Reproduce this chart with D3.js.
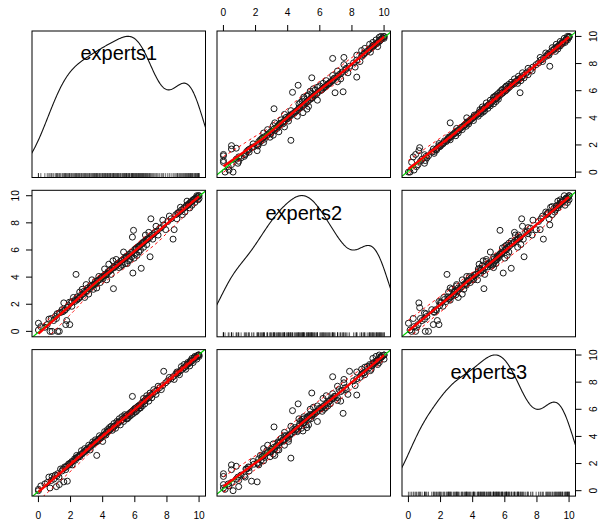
<!DOCTYPE html>
<html><head><meta charset="utf-8">
<script src="https://cdn.jsdelivr.net/npm/d3@7"></script>
<style>body{margin:0;background:#fff} svg{display:block;font-family:"Liberation Sans",Arial,sans-serif}</style>
</head><body><svg id="c" width="600" height="521"></svg>
<script>
const varNames = ["experts1","experts2","experts3"];
const experts1 = [
0,0,0.15,0.4,
0.55,0.65,0.72,0.8,0.85,0.95,
1.05,1.12,1.16,1.2,1.28,1.3,1.38,1.47,
1.52,1.58,1.63,1.67,1.7,1.76,1.8,1.87,1.93,1.95,
2.02,2.08,2.1,2.18,2.25,2.3,2.34,2.38,2.42,2.48,
2.52,2.57,2.6,2.68,2.72,2.78,2.83,2.88,2.92,2.97,
3.02,3.07,3.13,3.18,3.22,3.28,3.33,3.38,3.42,3.47,
3.5,3.55,3.6,3.63,3.66,3.7,3.76,3.8,3.85,3.9,3.96,
4.0,4.03,4.08,4.12,4.17,4.2,4.25,4.3,4.33,4.38,4.42,4.47,
4.5,4.53,4.6,4.64,4.67,4.7,4.73,4.8,4.84,4.88,4.92,4.96,
5.0,5.03,5.1,5.13,5.2,5.23,5.3,5.33,5.37,5.4,5.44,5.48,
5.5,5.53,5.6,5.63,5.67,5.7,5.77,5.8,5.83,5.85,5.88,5.92,5.96,
6.0,6.03,6.07,6.1,6.14,6.18,6.22,6.25,6.28,6.32,6.35,6.4,6.43,6.47,
6.5,6.54,6.58,6.62,6.66,6.7,6.74,6.78,6.82,6.87,6.92,6.95,
7.0,7.06,7.12,7.18,7.25,7.32,7.38,7.45,
7.55,7.65,7.74,7.8,7.92,
8.05,8.15,8.26,8.38,8.45,
8.55,8.62,8.66,8.7,8.78,8.84,8.9,8.96,
9.02,9.07,9.12,9.17,9.2,9.25,9.3,9.33,9.37,9.42,9.45,9.48,
9.52,9.56,9.6,9.63,9.7,9.74,9.78,9.82,9.86,9.9,9.94,9.97,10,10];
const experts2 = [
0.6,0.1,0.35,0.3,
0.5,0.9,0,0.95,0,0.8,
1.1,0.95,1.3,0,1.35,0,1.4,1.6,
1.45,2.1,1.55,1.6,0.5,0.8,1.75,1.9,2.15,0.5,
2.1,1.85,2.2,2.5,2.2,2.35,4.2,2.3,2.55,2.4,
2.45,2.9,2.55,2.7,3.1,2.75,2.95,2.5,2.9,3.45,
3.0,3.2,2.75,3.15,3.35,3.3,3.8,3.4,3.1,3.5,
3.45,3.7,3.55,3.2,3.7,3.75,4.05,3.8,3.6,3.95,4.0,
4.05,3.9,4.1,4.6,4.2,4.15,3.8,4.3,4.4,4.95,4.45,4.5,
4.55,4.2,4.65,5.2,3.15,4.75,4.7,4.85,5.3,4.9,4.95,5.0,
5.05,4.7,5.15,4.8,5.25,4.9,5.85,5.35,5.4,5.0,5.5,5.45,
5.55,5.0,5.2,5.65,5.7,5.3,5.8,5.5,5.85,6.95,4.3,7.45,5.4,
6.05,5.7,6.1,6.15,5.6,6.2,6.25,5.85,6.3,6.35,6.0,4.65,6.45,6.5,
6.55,6.2,6.6,6.65,7.1,6.75,6.4,6.8,6.85,7.3,6.9,5.5,
8.3,7.1,6.8,7.2,7.3,7.75,7.4,7.1,
7.6,7.65,8.2,7.85,7.5,
8.1,8.5,8.3,6.8,7.5,
8.6,8.3,8.7,8.75,8.8,9.15,8.95,8.6,
9.05,9.1,8.8,9.2,9.25,9.6,9.35,9.3,9.4,9.1,9.5,9.55,
9.55,9.3,9.65,9.7,9.75,9.5,9.8,9.85,10,9.9,9.7,10,10,9.8];
const experts3 = [
0,0.1,0.35,0.5,
0.6,1.0,0.2,0.75,1.05,0.85,
1.15,0.3,1.1,1.25,1.0,0.45,1.6,1.45,
1.6,0.65,1.75,1.7,1.55,1.8,0.7,1.95,2.0,1.9,
2.05,2.15,1.9,2.2,2.35,2.25,2.4,2.6,2.45,2.5,
2.55,2.5,2.65,2.95,2.7,2.8,2.85,3.1,2.9,3.0,
3.05,3.1,3.35,3.2,3.0,3.3,3.35,3.6,3.45,3.5,
3.55,3.75,3.6,2.6,3.7,3.65,3.8,4.05,3.85,3.9,4.0,
3.63,4.05,4.1,4.35,4.2,4.1,4.3,4.5,4.35,4.4,4.65,4.5,
4.55,4.75,4.45,4.65,4.7,4.95,4.75,4.6,4.85,5.1,4.95,5.0,
5.05,5.3,4.85,5.15,5.45,5.25,5.1,5.35,5.6,5.45,5.5,5.3,
5.55,5.3,5.4,5.65,5.7,5.5,5.8,5.6,5.85,6.95,5.9,5.7,6.0,
6.05,5.8,6.1,5.85,6.15,6.2,6.0,6.25,6.3,6.1,6.1,6.4,6.45,6.25,
6.55,6.8,6.6,6.4,6.65,6.75,7.0,6.8,6.85,6.6,6.95,7.2,
7.05,6.85,7.15,7.45,7.3,7.1,7.4,7.7,
7.6,7.45,7.75,8.8,7.95,
8.1,8.35,8.25,8.4,8.2,
8.6,8.75,8.65,8.7,8.55,8.85,9.15,8.95,
9.05,9.3,9.1,8.95,9.2,9.3,9.45,9.35,9.4,9.2,9.5,9.6,
9.55,9.75,9.6,9.45,9.8,9.9,9.8,9.85,9.7,9.95,10,10,10,9.9];
const tickValues = [0,2,4,6,8,10];

const data = [experts1, experts2, experts3];
const svg = d3.select("#c");
const colX0 = 32, colStep = 185, pw = 173.5;
const rowY0 = 31, rowStep = 159.3, ph = 146.5;

function ext(arr){ const [a,b]=d3.extent(arr); const d=(b-a)*0.04; return [a-d,b+d]; }
const xs = data.map((d,j)=>d3.scaleLinear().domain(ext(d)).range([colX0+j*colStep, colX0+j*colStep+pw]));
const ys = data.map((d,i)=>d3.scaleLinear().domain(ext(d)).range([rowY0+i*rowStep+ph, rowY0+i*rowStep]));

function bwNrd0(x){
  const s = [...x].sort((a,b)=>a-b);
  const hi = d3.deviation(s);
  const iqr = d3.quantile(s,0.75)-d3.quantile(s,0.25);
  let lo = Math.min(hi, iqr/1.34);
  return 0.9*lo*Math.pow(s.length,-0.2);
}
function kde(x){
  const bw = bwNrd0(x);
  const [mn,mx] = d3.extent(x);
  const from = mn-3*bw, to = mx+3*bw, n=512;
  const out=[];
  for(let k=0;k<n;k++){
    const t = from + (to-from)*k/(n-1);
    let s=0;
    for(const v of x){ const z=(t-v)/bw; s+=Math.exp(-0.5*z*z); }
    out.push([t, s/(x.length*bw*Math.sqrt(2*Math.PI))]);
  }
  return out;
}
function localLinear(px, py, span, at){
  const n = px.length, q = Math.max(3, Math.floor(n*span));
  return at.map(x0=>{
    const dists = px.map(v=>Math.abs(v-x0));
    const sorted = [...dists].sort((a,b)=>a-b);
    let h = sorted[Math.min(q-1,n-1)]; if(h<=0) h=1e-6;
    h *= 1.0000001;
    let sw=0,sx=0,sy=0,sxx=0,sxy=0;
    for(let k=0;k<n;k++){
      const u = dists[k]/h; if(u>=1) continue;
      const w = Math.pow(1-u*u*u,3);
      sw+=w; sx+=w*px[k]; sy+=w*py[k]; sxx+=w*px[k]*px[k]; sxy+=w*px[k]*py[k];
    }
    const mx=sx/sw, my=sy/sw, vxx=sxx/sw-mx*mx, vxy=sxy/sw-mx*my;
    const b = vxx>1e-12 ? vxy/vxx : 0;
    return my + b*(x0-mx);
  });
}

const defs = svg.append("defs");
for(let i=0;i<3;i++){
  for(let j=0;j<3;j++){
    const x=xs[j], y=ys[i];
    const [x0,x1]=x.range(), [y1,y0]=y.range();
    const id=`clip${i}${j}`;
    defs.append("clipPath").attr("id",id).append("rect")
      .attr("x",x0).attr("y",y0).attr("width",x1-x0).attr("height",y1-y0);
    const g = svg.append("g");
    const gc = g.append("g").attr("clip-path",`url(#${id})`);
    if(i===j){
      const v=data[i];
      const dens = kde(v);
      const [mn,mx]=d3.extent(v);
      const [dmn,dmx]=d3.extent(dens,d=>d[1]);
      const line = d3.line().x(d=>x(d[0])).y(d=>y(mn + d[1]*(mx-mn)/(dmx-dmn)));
      gc.append("path").attr("d",line(dens)).attr("fill","none").attr("stroke","#111").attr("stroke-width",1.1);
      const tickLen = 0.03*(y1-y0);
      gc.selectAll(null).data(v).join("line")
        .attr("x1",d=>x(d)).attr("x2",d=>x(d)).attr("y1",y1).attr("y2",y1-tickLen)
        .attr("stroke","#000").attr("stroke-width",0.6);
      g.append("text").attr("x",x((mn+mx)/2)).attr("y",y(mx)+24)
        .attr("text-anchor","middle").attr("font-size",20).attr("fill","#000").text(varNames[i]);
    } else {
      const vx=data[j], vy=data[i];
      const pts = vx.map((d,k)=>[d,vy[k]]);
      gc.selectAll(null).data(pts).join("circle")
        .attr("cx",d=>x(d[0])).attr("cy",d=>y(d[1])).attr("r",3)
        .attr("fill","none").attr("stroke","#1a1a1a").attr("stroke-width",1);
      const mxv=d3.mean(vx), myv=d3.mean(vy);
      let sxy=0,sxx=0; vx.forEach((a,k)=>{sxy+=(a-mxv)*(vy[k]-myv); sxx+=(a-mxv)*(a-mxv);});
      const b=sxy/sxx, a=myv-b*mxv;
      const [dx0,dx1]=x.domain();
      gc.append("line").attr("x1",x(dx0)).attr("x2",x(dx1)).attr("y1",y(a+b*dx0)).attr("y2",y(a+b*dx1))
        .attr("stroke","#00CD00").attr("stroke-width",1.2);
      const grid = Array.from(new Set([...vx].sort((p,q)=>p-q)));
      const fit = localLinear(vx, vy, 0.5, grid);
      const fitAtData = localLinear(vx, vy, 0.5, vx);
      const res = vy.map((v,k)=>v-fitAtData[k]);
      const posX=[],posR=[],negX=[],negR=[];
      res.forEach((r,k)=>{ if(r>0){posX.push(vx[k]);posR.push(r*r);} else {negX.push(vx[k]);negR.push(r*r);} });
      const pf = localLinear(posX,posR,0.5,grid).map(v=>Math.sqrt(Math.max(0,v)));
      const nf = localLinear(negX,negR,0.5,grid).map(v=>Math.sqrt(Math.max(0,v)));
      const ln = d3.line().x(d=>x(d[0])).y(d=>y(d[1]));
      gc.append("path").attr("d",ln(grid.map((g2,k)=>[g2,fit[k]+pf[k]])))
        .attr("fill","none").attr("stroke","#FF0000").attr("stroke-width",1).attr("stroke-dasharray","3,3");
      gc.append("path").attr("d",ln(grid.map((g2,k)=>[g2,fit[k]-nf[k]])))
        .attr("fill","none").attr("stroke","#FF0000").attr("stroke-width",1).attr("stroke-dasharray","3,3");
      gc.append("path").attr("d",ln(grid.map((g2,k)=>[g2,fit[k]])))
        .attr("fill","none").attr("stroke","#FF0000").attr("stroke-width",2.4);
    }
    g.append("rect").attr("x",x0).attr("y",y0).attr("width",x1-x0).attr("height",y1-y0)
      .attr("fill","none").attr("stroke","#000").attr("stroke-width",1);
  }
}

const fs = 10.2, half = 3.65, tl = 6;
function axisTop(j){
  const x=xs[j], yTop=ys[0].range()[1];
  const g=svg.append("g");
  g.selectAll(null).data(tickValues).join("line").attr("x1",d=>x(d)).attr("x2",d=>x(d))
    .attr("y1",yTop).attr("y2",yTop-tl).attr("stroke","#000");
  g.selectAll(null).data(tickValues).join("text").attr("x",d=>x(d)).attr("y",yTop-14.6)
    .attr("text-anchor","middle").attr("font-size",fs).text(d=>d);
}
function axisBottom(j){
  const x=xs[j], yB=ys[2].range()[0];
  const g=svg.append("g");
  g.selectAll(null).data(tickValues).join("line").attr("x1",d=>x(d)).attr("x2",d=>x(d))
    .attr("y1",yB).attr("y2",yB+tl).attr("stroke","#000");
  g.selectAll(null).data(tickValues).join("text").attr("x",d=>x(d)).attr("y",yB+22.6)
    .attr("text-anchor","middle").attr("font-size",fs).text(d=>d);
}
function axisLeft(i){
  const y=ys[i], xL=xs[0].range()[0];
  const g=svg.append("g");
  g.selectAll(null).data(tickValues).join("line").attr("y1",d=>y(d)).attr("y2",d=>y(d))
    .attr("x1",xL).attr("x2",xL-tl).attr("stroke","#000");
  g.selectAll(null).data(tickValues).join("text")
    .attr("transform",d=>`translate(${xL-17+half},${y(d)}) rotate(-90)`)
    .attr("text-anchor","middle").attr("font-size",fs).text(d=>d);
}
function axisRight(i){
  const y=ys[i], xR=xs[2].range()[1];
  const g=svg.append("g");
  g.selectAll(null).data(tickValues).join("line").attr("y1",d=>y(d)).attr("y2",d=>y(d))
    .attr("x1",xR).attr("x2",xR+tl).attr("stroke","#000");
  g.selectAll(null).data(tickValues).join("text")
    .attr("transform",d=>`translate(${xR+18+half},${y(d)}) rotate(-90)`)
    .attr("text-anchor","middle").attr("font-size",fs).text(d=>d);
}
axisTop(1); axisBottom(0); axisBottom(2);
axisRight(0); axisLeft(1); axisRight(2);
</script></body></html>
